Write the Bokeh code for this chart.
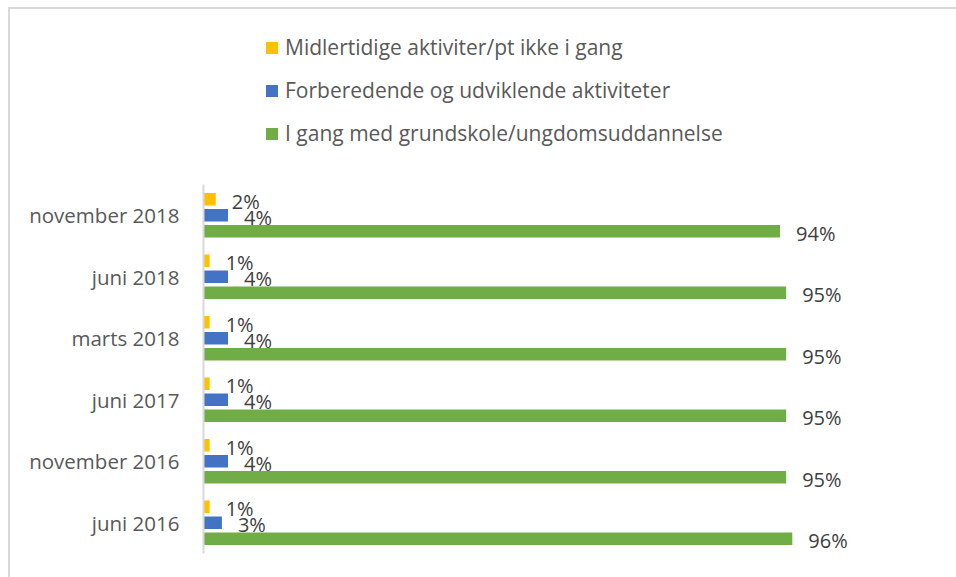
from bokeh.plotting import figure
from bokeh.models import ColumnDataSource, Range1d, LabelSet, Legend, LegendItem, FixedTicker
from bokeh.transform import dodge
from bokeh.core.properties import value
from bokeh.embed import file_html
from bokeh.resources import INLINE

# Data (top to bottom in the reference)
categories = ["november 2018", "juni 2018", "marts 2018", "juni 2017", "november 2016", "juni 2016"]
series_names = ["Midlertidige aktiviter/pt ikke i gang",
                "Forberedende og udviklende aktiviteter",
                "I gang med grundskole/ungdomsuddannelse"]
midlertidige = [2, 1, 1, 1, 1, 1]
forberedende = [4, 4, 4, 4, 4, 3]
i_gang = [94, 95, 95, 95, 95, 96]

colors = ["#FFC000", "#4472C4", "#70AD47"]
offsets = [0.26, 0.0, -0.26]
FONT = "Open Sans"

n = len(categories)
positions = [n - 1 - i for i in range(n)]  # top category gets highest position

PX_PER_CAT = 61.5
FRAME_H = 533
y_end = -0.5 + FRAME_H / PX_PER_CAT

p = figure(
    width=946, height=568,
    y_range=Range1d(-0.5, y_end),
    x_range=Range1d(0, 120),
    output_backend="svg", toolbar_location=None,
    min_border_left=193, min_border_right=17,
    min_border_top=568 - 24 - FRAME_H, min_border_bottom=24,
    frame_width=736, frame_height=FRAME_H,
)
p.margin = (7, 0, 0, 8)
p.styles = {"border-top": "2px solid #d9d9d9", "border-left": "2px solid #d9d9d9"}

items = []
for name, vals, col, off in zip(series_names, [midlertidige, forberedende, i_gang], colors, offsets):
    src = ColumnDataSource(dict(pos=positions, val=vals, lab=[f"{v}%" for v in vals]))
    r = p.hbar(y=dodge("pos", off), right="val", left=0, height=0.2,
               source=src, fill_color=col, line_color=None)
    items.append(LegendItem(label=name, renderers=[r]))
    labels = LabelSet(x="val", y=dodge("pos", off), text="lab", source=src,
                      x_offset=16, y_offset=-2, text_baseline="middle", text_align="left",
                      text_font=value(FONT), text_font_size=value("20px"), text_color="#404040")
    p.add_layout(labels)

legend = Legend(items=items, location=(61, 406), orientation="vertical",
                glyph_width=15, glyph_height=15, label_standoff=6,
                label_height=28, spacing=15, padding=0, margin=0,
                border_line_color=None, background_fill_alpha=0,
                label_text_font=FONT, label_text_font_size="21px", label_text_color="#595959")
p.add_layout(legend, "center")

p.xaxis.visible = False
p.xgrid.grid_line_color = None
p.ygrid.grid_line_color = None
p.outline_line_color = None
yax = p.yaxis[0]
yax.ticker = FixedTicker(ticks=positions)
yax.major_label_overrides = {pos: cat for pos, cat in zip(positions, categories)}
yax.bounds = (-0.5, n - 0.5)
yax.axis_line_color = "#d9d9d9"
yax.axis_line_width = 2
yax.major_tick_line_color = None
yax.minor_tick_line_color = None
yax.major_tick_out = 0
yax.major_tick_in = 0
yax.major_label_standoff = 24
yax.major_label_text_font = FONT
yax.major_label_text_font_size = "20.5px"
yax.major_label_text_color = "#595959"

open("out.html", "w").write(file_html(p, INLINE))
